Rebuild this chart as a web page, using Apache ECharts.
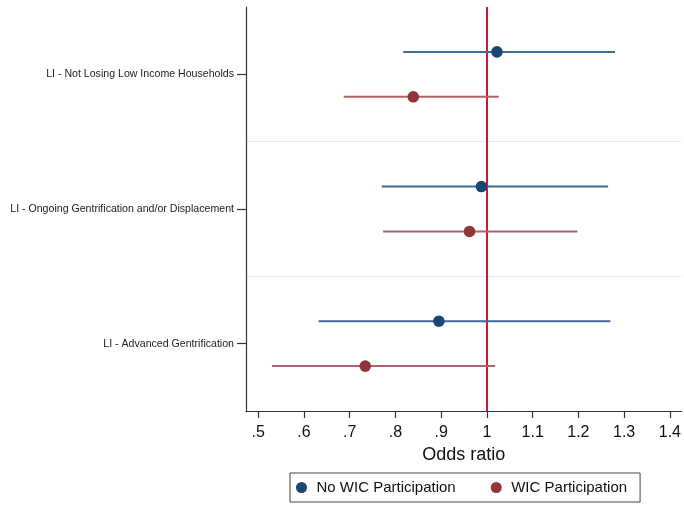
<!DOCTYPE html>
<html>
<head>
<meta charset="utf-8">
<script src="https://cdn.jsdelivr.net/npm/echarts@6/dist/echarts.min.js"></script>
<style>html,body{margin:0;padding:0;background:#fff}#c{width:684px;height:506px}</style>
</head>
<body>
<div id="c"></div>
<script>
const categories = [
  'LI - Not Losing Low Income Households',
  'LI - Ongoing Gentrification and/or Displacement',
  'LI - Advanced Gentrification'
];
const seriesNames = ['No WIC Participation', 'WIC Participation'];
// [estimate, lower CI, upper CI] per category
const noWicEst = [1.022, 0.988, 0.895];
const noWicLo  = [0.817, 0.770, 0.632];
const noWicHi  = [1.280, 1.265, 1.270];
const wicEst   = [0.839, 0.962, 0.734];
const wicLo    = [0.687, 0.773, 0.530];
const wicHi    = [1.026, 1.198, 1.018];
const xTicks = [0.5, 0.6, 0.7, 0.8, 0.9, 1.0, 1.1, 1.2, 1.3, 1.4];
const refValue = 1;

const colors = ['#1a476f', '#90353b'];
const lineColors = ['#3f6a91', '#b0646a'];
const offsets = [-1/6, 1/6];

function buildData(est, lo, hi) {
  return est.map((e, i) => [e, lo[i], hi[i], i]);
}

function makeRender(idx) {
  return function (params, api) {
    const cat = api.value(3);
    const y = cat + 0.5 + offsets[idx];
    const pLo = api.coord([api.value(1), y]);
    const pHi = api.coord([api.value(2), y]);
    const pE = api.coord([api.value(0), y]);
    return {
      type: 'group',
      children: [
        { type: 'line', shape: { x1: pLo[0], y1: pLo[1], x2: pHi[0], y2: pHi[1] },
          style: { stroke: lineColors[idx], lineWidth: 2 } },
        { type: 'circle', shape: { cx: pE[0], cy: pE[1], r: 5.8 },
          style: { fill: colors[idx] } }
      ]
    };
  };
}

const FONT = 'Liberation Sans, Arial, sans-serif';
const chart = echarts.init(document.getElementById('c'));
chart.setOption({
  animation: false,
  backgroundColor: '#fff',
  grid: { left: 246, right: 0, top: 7, bottom: 95, containLabel: false },
  xAxis: {
    type: 'value', min: 0.4733, max: 1.4254, position: 'bottom',
    axisLine: { show: true, onZero: false, lineStyle: { color: '#333', width: 1.2 } },
    axisTick: { show: true, length: 7, customValues: xTicks, lineStyle: { color: '#333', width: 1.2 } },
    axisLabel: { customValues: xTicks, margin: 14, fontSize: 16, color: '#111', fontFamily: FONT,
      formatter: v => { const s = String(Math.round(v * 10) / 10); return s.startsWith('0.') ? s.slice(1) : s; } },
    splitLine: { show: false },
    name: 'Odds ratio', nameLocation: 'middle', nameGap: 32,
    nameTextStyle: { fontSize: 18, color: '#111', fontFamily: FONT }
  },
  yAxis: [
    {
      type: 'category', data: categories, inverse: true, boundaryGap: true, position: 'left',
      axisLine: { show: true, onZero: false, lineStyle: { color: '#333', width: 1.2 } },
      axisTick: { show: true, alignWithLabel: true, length: 9, lineStyle: { color: '#333', width: 1.2 } },
      axisLabel: { fontSize: 10.6, color: '#222', margin: 12, fontFamily: FONT },
      splitLine: { show: false }, z: 10
    },
    { type: 'value', min: 0, max: 3, inverse: true, show: false }
  ],
  legend: {
    data: seriesNames.map((n, i) => ({ name: n, icon: 'circle', itemStyle: { color: colors[i] } })),
    left: 290, top: 473, orient: 'horizontal',
    itemWidth: 20, itemHeight: 11, itemGap: 35,
    padding: [7, 13, 7, 6],
    borderColor: '#444', borderWidth: 1,
    textStyle: { fontSize: 15, color: '#111', fontFamily: FONT }
  },
  series: [
    {
      name: seriesNames[0], type: 'custom', yAxisIndex: 1, renderItem: makeRender(0),
      data: buildData(noWicEst, noWicLo, noWicHi), encode: { x: [0, 1, 2], y: 3 },
      itemStyle: { color: colors[0] }, z: 5
    },
    {
      name: seriesNames[1], type: 'custom', yAxisIndex: 1, renderItem: makeRender(1),
      data: buildData(wicEst, wicLo, wicHi), encode: { x: [0, 1, 2], y: 3 },
      itemStyle: { color: colors[1] }, z: 5
    },
    {
      name: 'ref', type: 'scatter', yAxisIndex: 1, data: [], silent: true, z: 1,
      markLine: {
        silent: true, symbol: 'none', label: { show: false }, z: 1,
        data: [
          { yAxis: 1, lineStyle: { color: '#dfeaef', width: 1.2, type: 'solid' } },
          { yAxis: 2, lineStyle: { color: '#dfeaef', width: 1.2, type: 'solid' } }
        ]
      }
    },
    {
      name: 'ref1', type: 'scatter', yAxisIndex: 1, data: [], silent: true, z: 4,
      markLine: {
        silent: true, symbol: 'none', label: { show: false },
        data: [ { xAxis: refValue, lineStyle: { color: '#d0143a', width: 2, type: 'solid' } } ]
      }
    }
  ]
});
</script>
</body>
</html>
